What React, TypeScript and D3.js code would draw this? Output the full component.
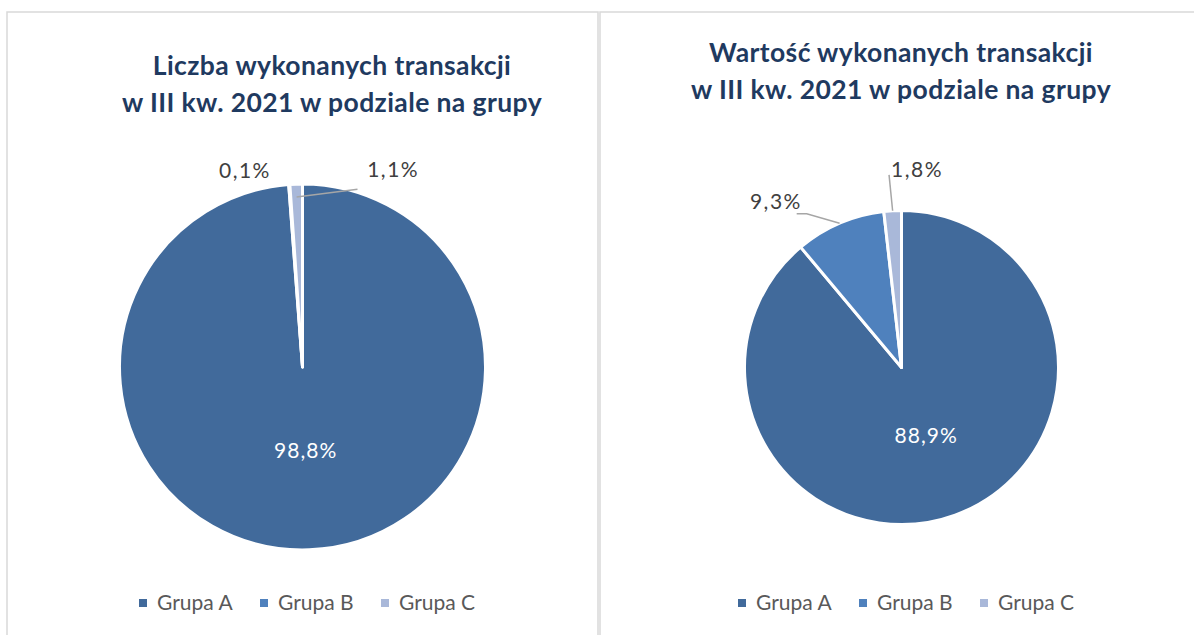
import React from "react";
import * as d3 from "d3";

const categories = ["Grupa A", "Grupa B", "Grupa C"];
const countValues = [98.8, 0.1, 1.1];
const valueValues = [88.9, 9.3, 1.8];
const countLabels = ["98,8%", "0,1%", "1,1%"];
const valueLabels = ["88,9%", "9,3%", "1,8%"];
const titleCount = ["Liczba wykonanych transakcji", "w III kw. 2021 w podziale na grupy"];
const titleValue = ["Wartość wykonanych transakcji", "w III kw. 2021 w podziale na grupy"];

const colors = ["#416a9b", "#4f81bd", "#a9b8d9"];
const FONT = "Lato, 'Open Sans', sans-serif";

type LabelCfg = { angle: number; dist: number; leader?: { elbow?: [number, number]; fromAngle: number; fromDist: number; toR: number } | null };

interface PanelProps {
  x: number;
  width: number;
  cx: number;
  cy: number;
  r: number;
  titleX: number;
  titleY: number;
  values: number[];
  labels: string[];
  title: string[];
  labelCfg: (LabelCfg | null)[];
  legendX: number;
}

const deg = (a: number) => (a * Math.PI) / 180;
const polar = (cx: number, cy: number, a: number, d: number): [number, number] => [
  cx + d * Math.sin(a),
  cy - d * Math.cos(a),
];

function Panel(p: PanelProps) {
  const pie = d3.pie<number>().sort(null).value((d) => d);
  const arcs = pie(p.values);
  const arc = d3.arc<d3.PieArcDatum<number>>().innerRadius(0).outerRadius(p.r);
  const legendStep = 121;
  return (
    <g>
      <rect x={p.x} y={12} width={p.width} height={640} fill="#fff" stroke="#d9d9d9" strokeWidth={1.5} />
      {p.title.map((t, i) => (
        <text key={i} x={p.titleX} y={p.titleY + i * 37} textAnchor="middle" fontFamily={FONT} fontWeight={700} fontSize={26.5} letterSpacing={0.4} fill="#1f3a60">
          {t}
        </text>
      ))}
      <g transform={`translate(${p.cx},${p.cy})`}>
        {arcs.map((a, i) => (
          <path key={i} d={arc(a) || ""} fill={colors[i]} stroke="#fff" strokeWidth={3} strokeLinejoin="round" />
        ))}
      </g>
      {arcs.map((a, i) => {
        const cfg = p.labelCfg[i];
        const mid = (a.startAngle + a.endAngle) / 2;
        if (!cfg) {
          const [lx, ly] = polar(p.cx, p.cy, mid, p.r * 0.46);
          return (
            <text key={i} x={lx} y={ly} dy="0.35em" textAnchor="middle" fontFamily={FONT} fontSize={21} letterSpacing={1} fill="#fff">
              {p.labels[i]}
            </text>
          );
        }
        const [lx, ly] = polar(p.cx, p.cy, deg(cfg.angle), cfg.dist);
        let leader = null;
        if (cfg.leader) {
          const start = polar(p.cx, p.cy, deg(cfg.leader.fromAngle), cfg.leader.fromDist);
          const end = polar(p.cx, p.cy, mid, cfg.leader.toR * p.r);
          const pts: [number, number][] = [start];
          if (cfg.leader.elbow) pts.push([start[0] + cfg.leader.elbow[0], start[1] + cfg.leader.elbow[1]]);
          pts.push(end);
          leader = <path d={d3.line()(pts) || ""} fill="none" stroke="#a6a6a6" strokeWidth={1.5} />;
        }
        return (
          <g key={i}>
            {leader}
            <text x={lx} y={ly} dy="0.35em" textAnchor="middle" fontFamily={FONT} fontSize={21} letterSpacing={1.5} fill="#404040">
              {p.labels[i]}
            </text>
          </g>
        );
      })}
      {categories.map((c, i) => (
        <g key={c} transform={`translate(${p.legendX + i * legendStep},603)`}>
          <rect x={-4} y={-4} width={8} height={8} fill={colors[i]} />
          <text x={14} y={0} dy="0.35em" fontFamily={FONT} fontSize={21} fill="#595959">
            {c}
          </text>
        </g>
      ))}
    </g>
  );
}

export default function App() {
  return (
    <svg width={1194} height={635} style={{ position: "absolute", left: 0, top: 0, background: "#fff" }}>
      <Panel
        x={7}
        width={591}
        cx={302.5}
        cy={367}
        r={183}
        titleX={332}
        titleY={75}
        values={countValues}
        labels={countLabels}
        title={titleCount}
        legendX={143}
        labelCfg={[
          null,
          { angle: -16.3, dist: 205 },
          { angle: 24.7, dist: 217, leader: { fromAngle: 17.2, fromDist: 186, toR: 0.93 } },
        ]}
      />
      <Panel
        x={600}
        width={620}
        cx={901.5}
        cy={367.5}
        r={157}
        titleX={901}
        titleY={62}
        values={valueValues}
        labels={valueLabels}
        title={titleValue}
        legendX={742}
        labelCfg={[
          null,
          { angle: -37.2, dist: 207.7, leader: { fromAngle: -34.3, fromDist: 186, elbow: [10, 0], toR: 1 } },
          { angle: 4.5, dist: 198, leader: { fromAngle: -3.7, fromDist: 193, toR: 1 } },
        ]}
      />
    </svg>
  );
}
